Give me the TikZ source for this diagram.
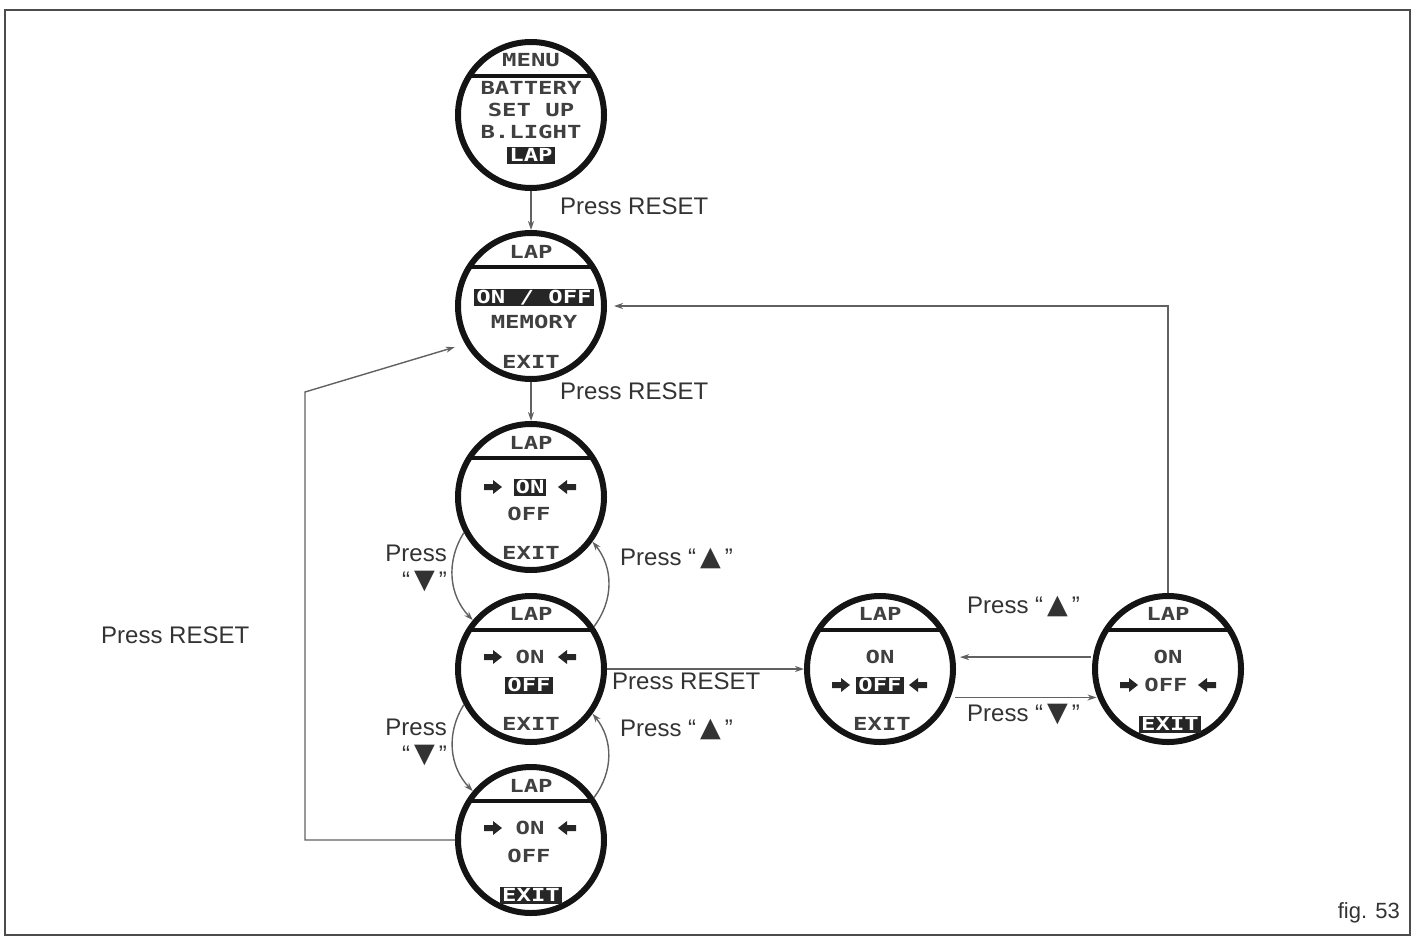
\documentclass[tikz,border=0pt]{standalone}
\usepackage{fontspec}
\usetikzlibrary{arrows.meta,calc}
\setmainfont{Liberation Sans}
\newfontfamily\lcdfont{DejaVu Sans Mono}[FakeStretch=1.33]
\newfontfamily\symfont{DejaVu Sans}
\newcommand\upt{\hspace{4pt}{\symfont\fontsize{27}{27}\selectfont ▲}\hspace{4pt}}
\newcommand\dnt{\hspace{4pt}{\symfont\fontsize{27}{27}\selectfont ▼}\hspace{4pt}}
\begin{document}
\begin{tikzpicture}[x=1pt,y=-1pt,
 disp/.style={circle, draw=black!92, line width=6pt, minimum size=146pt, inner sep=0pt},
 lcd/.style={font=\lcdfont\bfseries\fontsize{18}{18}\selectfont, text=black!75, inner sep=0pt, text height=13pt, text depth=0pt},
 hl/.style={lcd, fill=black!85, text=white, inner xsep=2pt, inner ysep=2pt},
 lbl/.style={font=\fontsize{24}{27}\selectfont, text=black!80, inner sep=0pt},
 conn/.style={draw=black!62, line width=1.4pt},
 tip/.style={-{Stealth[length=9pt,width=6pt]}},
 chord/.style={line width=4pt, draw=black!92},
 barrow/.style={fill=black!85},
]
\useasboundingbox (0,0) rectangle (1412,937);
\draw[black!70, line width=2pt] (5,10) rectangle (1410,935);

% displays
\node[disp] (c1) at (531,115) {};
\node[disp] (c2) at (531,306) {};
\node[disp] (c3) at (531,497) {};
\node[disp] (c4) at (531,669) {};
\node[disp] (c5) at (531,840) {};
\node[disp] (c6) at (880,669) {};
\node[disp] (c7) at (1168,669) {};
\foreach \c in {c1,c2,c3,c4,c5,c6,c7}{
  \draw[chord] ($(\c.center)+(-61.7,-39)$) -- ($(\c.center)+(61.7,-39)$);
}
\newcommand\rarr[2]{\fill[barrow] (#1-9,#2-3) -- (#1,#2-3) -- (#1,#2-7) -- (#1+9,#2) -- (#1,#2+7) -- (#1,#2+3) -- (#1-9,#2+3) -- cycle;}
\newcommand\larr[2]{\fill[barrow] (#1+9,#2-3) -- (#1,#2-3) -- (#1,#2-7) -- (#1-9,#2) -- (#1,#2+7) -- (#1,#2+3) -- (#1+9,#2+3) -- cycle;}

% c1 content
\node[lcd] (c1t) at (531,60) {MENU};
\node[lcd] (c1a) at (531,88) {BATTERY};
\node[lcd] (c1b) at (531,110) {SET UP};
\node[lcd] (c1c) at (531,132) {B.LIGHT};
\node[hl] (c1d) at (531,155) {LAP};
% c2 content
\node[lcd] (c2t) at (531,252) {LAP};
\node[hl] (c2a) at (534,297) {ON / OFF};
\node[lcd] (c2b) at (534,322) {MEMORY};
\node[lcd] (c2c) at (531,362) {EXIT};
% c3 content
\node[lcd] (c3t) at (531,443) {LAP};
\node[hl] (c3a) at (530,487) {ON};
\rarr{493}{487} \larr{567}{487}
\node[lcd] (c3b) at (529,514) {OFF};
\node[lcd] (c3c) at (531,553) {EXIT};
% c4 content
\node[lcd] (c4t) at (531,614) {LAP};
\node[lcd] (c4a) at (530,657) {ON};
\rarr{493}{657} \larr{567}{657}
\node[hl] (c4b) at (529,685) {OFF};
\node[lcd] (c4c) at (531,724) {EXIT};
% c5 content
\node[lcd] (c5t) at (531,786) {LAP};
\node[lcd] (c5a) at (530,828) {ON};
\rarr{493}{828} \larr{567}{828}
\node[lcd] (c5b) at (529,856) {OFF};
\node[hl] (c5c) at (531,895) {EXIT};
% c6 content
\node[lcd] (c6t) at (880,614) {LAP};
\node[lcd] (c6a) at (880,657) {ON};
\node[hl] (c6b) at (880,685) {OFF};
\rarr{841}{685} \larr{918}{685}
\node[lcd] (c6c) at (882,724) {EXIT};
% c7 content
\node[lcd] (c7t) at (1168,614) {LAP};
\node[lcd] (c7a) at (1168,657) {ON};
\node[lcd] (c7b) at (1166,685) {OFF};
\rarr{1129}{685} \larr{1207}{685}
\node[hl] (c7c) at (1170,724) {EXIT};

% connectors
\draw[conn,tip] (c1.south) -- (c2.north);
\draw[conn,tip] (c2.south) -- (c3.north);
\draw[conn,tip] (c3.208) to[bend right=38] (c4.140);
\draw[conn,tip] (c4.34) to[bend right=38] (c3.324);
\draw[conn,tip] (c4.208) to[bend right=38] (c5.140);
\draw[conn,tip] (c5.34) to[bend right=38] (c4.324);
\draw[conn,tip] (c4.east) -- (c6.west);
\draw[conn,tip,shorten >=5pt,shorten <=2pt] (c7.171) -- (c6.9);
\draw[conn,tip,shorten >=1pt,shorten <=5pt] (c6.-22) -- (c7.202);
\draw[conn,tip,shorten >=7pt] (c7.north) -- (c7.north |- c2.east) -- (c2.east);
\coordinate (lc) at (305,392);
\draw[conn,tip,shorten >=11pt] (c5.west) -- (c5.west -| lc) -- (lc) -- (c2.210);

% labels
\node[lbl,anchor=west] (l1) at (560,206) {Press RESET};
\node[lbl,anchor=west] (l2) at (560,391) {Press RESET};
\node[lbl,anchor=east,align=right] (l3) at (447,568) {Press\\“\dnt”};
\node[lbl,anchor=west] (l4) at (620,558) {Press “\upt”};
\node[lbl,anchor=east,align=right] (l5) at (447,742) {Press\\“\dnt”};
\node[lbl,anchor=west] (l6) at (620,729) {Press “\upt”};
\node[lbl,anchor=west] (l7) at (612,681) {Press RESET};
\node[lbl,anchor=west] (l8) at (967,606) {Press “\upt”};
\node[lbl,anchor=west] (l9) at (967,714) {Press “\dnt”};
\node[lbl,anchor=west] (l10) at (101,635) {Press RESET};
\node[lbl,anchor=east,font=\fontsize{22}{24}\selectfont] (fig) at (1400,913) {fig. 53};
\end{tikzpicture}
\end{document}
